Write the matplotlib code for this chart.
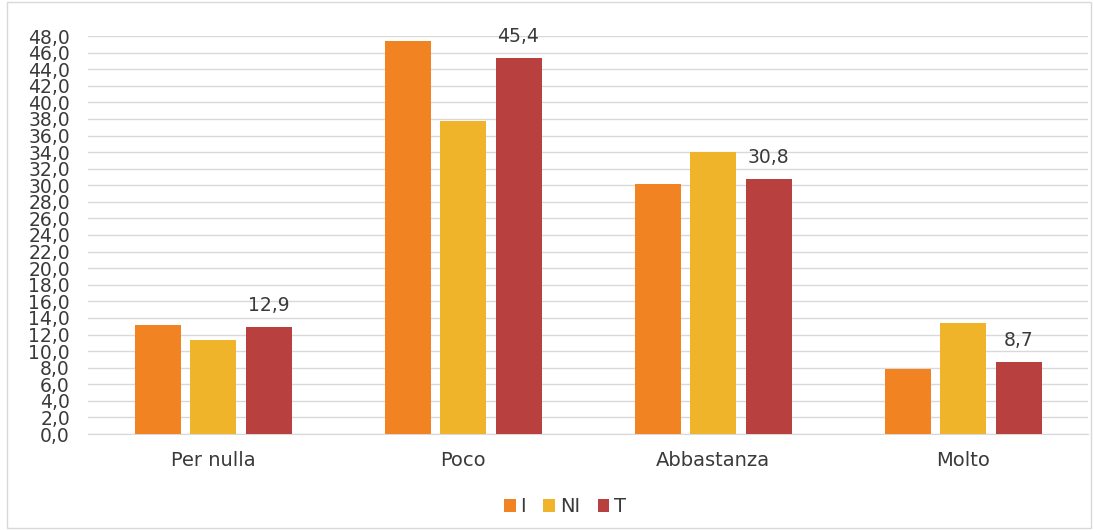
import numpy as np
import matplotlib.pyplot as plt
from matplotlib.patches import Rectangle

categories = ["Per nulla", "Poco", "Abbastanza", "Molto"]
series = ["I", "NI", "T"]
val_i = [13.2, 47.4, 30.2, 7.8]
val_ni = [11.3, 37.7, 34.0, 13.4]
val_t = [12.9, 45.4, 30.8, 8.7]
colors = ["#F28322", "#EFB42A", "#B8413F"]

plt.rcParams["font.family"] = ["DejaVu Sans"]
text_col = "#3a3a3a"

fig = plt.figure(figsize=(10.94, 5.30), dpi=100)
ax = fig.add_axes([88/1094, 1-434/530, 1000/1094, 398/530])

fig.patches.append(Rectangle((7/1094, 2/530), 1084/1094, 526/530, transform=fig.transFigure,
                             fill=False, edgecolor="#d9d9d9", linewidth=1))

x = np.arange(len(categories))
w = 0.184
step = 0.222
for k, (vals, c, name) in enumerate(zip([val_i, val_ni, val_t], colors, series)):
    bars = ax.bar(x + (k-1)*step, vals, width=w, color=c, label=name, zorder=3)
    if name == "T":
        for b, v in zip(bars, vals):
            ax.text(b.get_x()+b.get_width()/2, v+1.4, f"{v:.1f}".replace(".", ","),
                    ha="center", va="bottom", fontsize=13.5, color=text_col)

ax.set_xlim(-0.5, 3.5)
ax.set_ylim(0, 48)
yt = np.arange(0, 49, 2)
ax.set_yticks(yt)
ax.set_yticklabels([f"{v:.1f}".replace(".", ",") for v in yt], fontsize=13.5, color=text_col)
ax.set_xticks(x)
ax.set_xticklabels(categories, fontsize=14, color=text_col)
ax.tick_params(axis="both", length=0)
ax.tick_params(axis="x", pad=12)
ax.tick_params(axis="y", pad=13)
ax.grid(axis="y", color="#d9d9d9", linewidth=1, zorder=0)
for s in ["top", "right", "left"]:
    ax.spines[s].set_visible(False)
ax.spines["bottom"].set_color("#d9d9d9")

fig.legend(loc="center", bbox_to_anchor=(565/1094, 1-507/530), ncol=3, frameon=False,
           fontsize=14, handlelength=0.6, handleheight=0.6, handletextpad=0.25,
           columnspacing=0.9, labelcolor=text_col)

fig.savefig("out.png", dpi=100)
